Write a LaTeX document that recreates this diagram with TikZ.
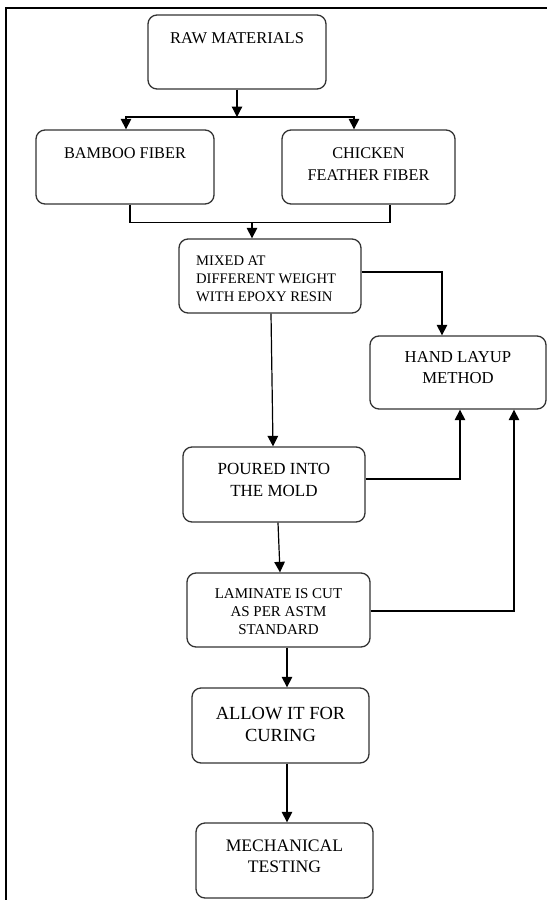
\documentclass[tikz,border=0pt]{standalone}
\usepackage{fontspec}
\setmainfont{Liberation Serif}
\usetikzlibrary{arrows.meta}
\begin{document}
\begin{tikzpicture}[x=1pt,y=-1pt,
  box/.style={draw=black!80, line width=1.3pt, rounded corners=9pt, inner sep=0pt},
  txt/.style={align=center, inner sep=0pt, text=black},
  conn/.style={draw=black, line width=1.2pt},
  arr/.style={conn, -{Triangle[length=10.5pt,width=10.5pt]}}]
\useasboundingbox (0,0) rectangle (547,900);
% frame
\draw[line width=2.3pt] (6.2,900) -- (6.2,8.3) -- (547,8.3);
% boxes
\node[box, minimum width=178pt, minimum height=74pt] (raw) at (237,52) {};
\node[box, minimum width=178pt, minimum height=74pt] (bamboo) at (125,167) {};
\node[box, minimum width=173pt, minimum height=74pt] (chicken) at (368.5,167) {};
\node[box, minimum width=182pt, minimum height=74pt] (mixed) at (270,276) {};
\node[box, minimum width=176pt, minimum height=73pt] (hand) at (458,372.5) {};
\node[box, minimum width=182pt, minimum height=75pt] (poured) at (274,484.5) {};
\node[box, minimum width=183pt, minimum height=74pt] (laminate) at (278.5,610) {};
\node[box, minimum width=177pt, minimum height=75pt] (allow) at (280.5,725.5) {};
\node[box, minimum width=177pt, minimum height=75pt] (mech) at (284.5,860.5) {};
% texts
\node[txt, font=\fontsize{16.5}{21.5}\selectfont] (trawt) at (237,38) {RAW MATERIALS};
\node[txt, font=\fontsize{16.3}{21.5}\selectfont] (tbamboo) at (125,153) {BAMBOO FIBER};
\node[txt, font=\fontsize{16.3}{22}\selectfont] (tchicken) at (368.5,164) {CHICKEN\\FEATHER FIBER};
\node[txt, align=left, anchor=west, font=\fontsize{14.6}{18}\selectfont] (tmixed) at (196,279) {MIXED AT\\DIFFERENT WEIGHT\\WITH EPOXY RESIN};
\node[txt, font=\fontsize{16.7}{21}\selectfont] (thand) at (458,367.5) {HAND LAYUP\\METHOD};
\node[txt, font=\fontsize{17}{22}\selectfont] (tpoured) at (274,480) {POURED INTO\\THE MOLD};
\node[txt, font=\fontsize{15}{18}\selectfont] (tlaminate) at (278.5,612) {LAMINATE IS CUT\\AS PER ASTM\\STANDARD};
\node[txt, font=\fontsize{18.5}{22}\selectfont] (tallow) at (280.5,724) {ALLOW IT FOR\\CURING};
\node[txt, font=\fontsize{17.6}{21}\selectfont] (tmech) at (284.5,856.5) {MECHANICAL\\TESTING};
% connectors
\coordinate (split) at (237,117);
\draw[arr] (raw.south) -- (split);
\draw[arr] (split) -| ([xshift=1pt]bamboo.north);
\draw[arr] (split) -| ([xshift=-14.5pt]chicken.north);
\coordinate (join) at (252,222);
\draw[conn] ([xshift=5pt]bamboo.south) -- ++(0,18) -| ([xshift=21.5pt]chicken.south);
\draw[arr] (join) -- ([xshift=-18pt]mixed.north);
\draw[arr] ([yshift=4pt]mixed.east) -| ([xshift=-16pt]hand.north);
\draw[arr] ([xshift=1pt]mixed.south) -- ([xshift=-1pt]poured.north);
\draw[arr] ([yshift=5.5pt]poured.east) -| ([xshift=2pt]hand.south);
\draw[arr] ([xshift=4pt]poured.south) -- ([xshift=1.5pt]laminate.north);
\draw[arr] ([yshift=-1pt]laminate.east) -| ([xshift=56pt]hand.south);
\draw[arr] ([xshift=8.5pt]laminate.south) -- ([xshift=6.5pt]allow.north);
\draw[arr] ([xshift=6.5pt]allow.south) -- ([xshift=2.5pt]mech.north);
\end{tikzpicture}
\end{document}
